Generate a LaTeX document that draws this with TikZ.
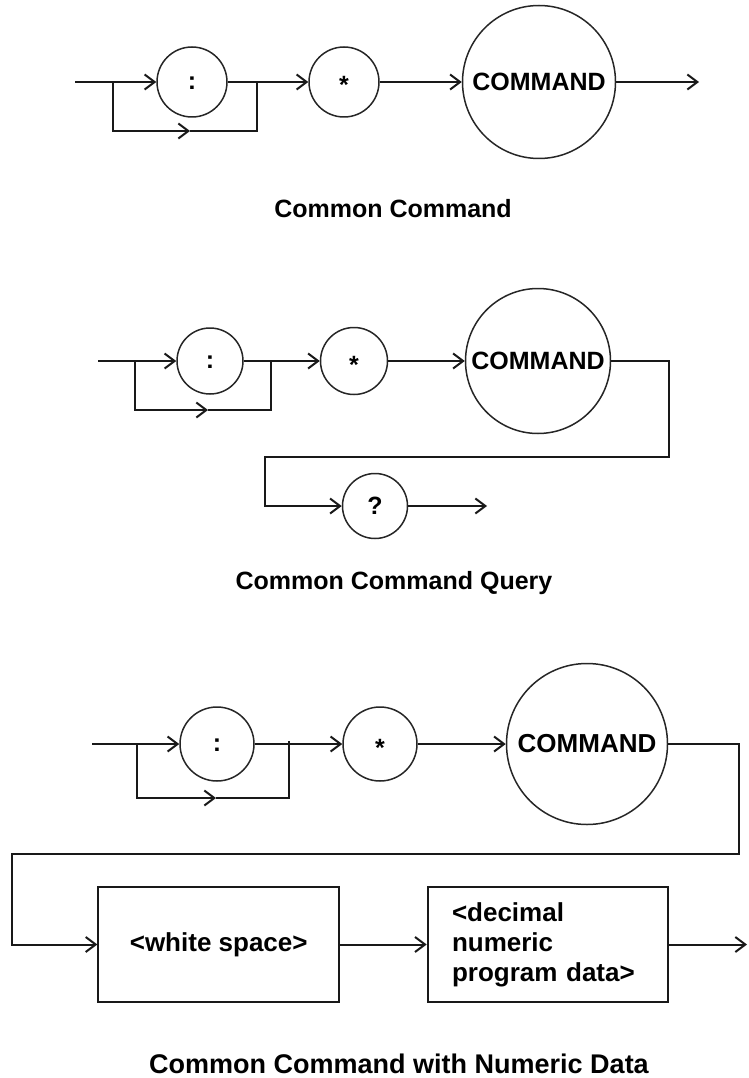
\documentclass[tikz,border=0pt]{standalone}
\usepackage{fontspec}
\setmainfont{Liberation Sans}
\usetikzlibrary{arrows.meta}
\newcommand\starsym{\smash{\raisebox{-12pt}{*}}}
\newcommand\colsym{\smash{\raisebox{-7.5pt}{:}}}
\begin{document}
\begin{tikzpicture}[x=1pt,y=-1pt,
  conn/.style={line width=2pt, draw=black!90},
  arr/.style={conn, -{Straight Barb[length=10pt,width=15pt]}},
  circ/.style={circle, draw=black!85, line width=1.5pt, inner sep=0pt, font=\bfseries\fontsize{25}{30}\selectfont},
  boxn/.style={rectangle, draw=black!90, line width=2pt, inner sep=0pt, font=\bfseries\fontsize{26}{30}\selectfont},
  captxt/.style={anchor=base, inner sep=0pt, font=\bfseries\fontsize{25}{30}\selectfont}]
\useasboundingbox (0,0) rectangle (748,1078);

% ---------- Diagram 1 ----------
\node[circ, minimum size=70pt] (c1) at (192,82) {\colsym};
\node[circ, minimum size=70pt] (s1) at (344,82) {\starsym};
\node[circ, minimum size=153pt] (m1) at (539,82) {COMMAND};
\coordinate (in1) at (75,82);
\coordinate (j1) at (113,82);
\coordinate (j1d) at (113,131);
\coordinate (a1) at (190,131);
\coordinate (k1d) at (257,131);
\coordinate (k1) at (257,82);
\coordinate (out1) at (699,82);
\draw[arr] (in1) -- (c1);
\draw[arr] (c1) -- (s1);
\draw[arr] (s1) -- (m1);
\draw[arr] (m1) -- (out1);
\draw[arr] (j1) -- (j1d) -- (a1);
\draw[conn] (a1) -- (k1d) -- (k1);
\node[captxt] (t1) at (393,218) {Common Command};

% ---------- Diagram 2 ----------
\node[circ, minimum size=66pt] (c2) at (210,361) {\colsym};
\node[circ, minimum size=67pt] (s2) at (354,361) {\starsym};
\node[circ, minimum size=145pt] (m2) at (538,361) {COMMAND};
\node[circ, minimum size=65pt] (q2) at (375,506) {?};
\coordinate (in2) at (98,361);
\coordinate (j2) at (135,361);
\coordinate (j2d) at (135,410);
\coordinate (a2) at (208,410);
\coordinate (k2d) at (271,410);
\coordinate (k2) at (271,361);
\coordinate (r2a) at (669,361);
\coordinate (r2b) at (669,457);
\coordinate (r2c) at (265,457);
\coordinate (r2d) at (265,506);
\coordinate (out2) at (487,506);
\draw[arr] (in2) -- (c2);
\draw[arr] (c2) -- (s2);
\draw[arr] (s2) -- (m2);
\draw[arr] (j2) -- (j2d) -- (a2);
\draw[conn] (a2) -- (k2d) -- (k2);
\draw[arr] (m2) -- (r2a) -- (r2b) -- (r2c) -- (r2d) -- (q2);
\draw[arr] (q2) -- (out2);
\node[captxt] (t2) at (394,589) {Common Command Query};

% ---------- Diagram 3 ----------
\node[circ, minimum size=74pt] (c3) at (217,744) {\colsym};
\node[circ, minimum size=74pt] (s3) at (380,744) {\starsym};
\node[circ, minimum size=161pt, font=\bfseries\fontsize{26}{30}\selectfont] (m3) at (587,744) {COMMAND};
\node[boxn, minimum width=240.7pt, minimum height=114.4pt] (ws) at (218.7,944.5) {<white space>};
\node[boxn, minimum width=240.6pt, minimum height=115pt, text width=192pt, align=left] (dec) at (548,944.5) {<decimal\\numeric\\program data>};
\coordinate (in3) at (92,744);
\coordinate (j3) at (137,744);
\coordinate (j3d) at (137,798);
\coordinate (a3) at (216,798);
\coordinate (k3d) at (289,798);
\coordinate (k3) at (289,741);
\coordinate (r3a) at (739,744);
\coordinate (r3b) at (739,854);
\coordinate (r3c) at (12,854);
\coordinate (r3d) at (12,944.5);
\coordinate (out3) at (747,944.5);
\draw[arr] (in3) -- (c3);
\draw[arr] (c3) -- (s3);
\draw[arr] (s3) -- (m3);
\draw[arr] (j3) -- (j3d) -- (a3);
\draw[conn] (a3) -- (k3d) -- (k3);
\draw[arr] (m3) -- (r3a) -- (r3b) -- (r3c) -- (r3d) -- (ws);
\draw[arr] (ws) -- (dec);
\draw[arr] (dec) -- (out3);
\node[captxt, font=\bfseries\fontsize{27}{30}\selectfont] (t3) at (399,1073) {Common Command with Numeric Data};
\end{tikzpicture}
\end{document}
